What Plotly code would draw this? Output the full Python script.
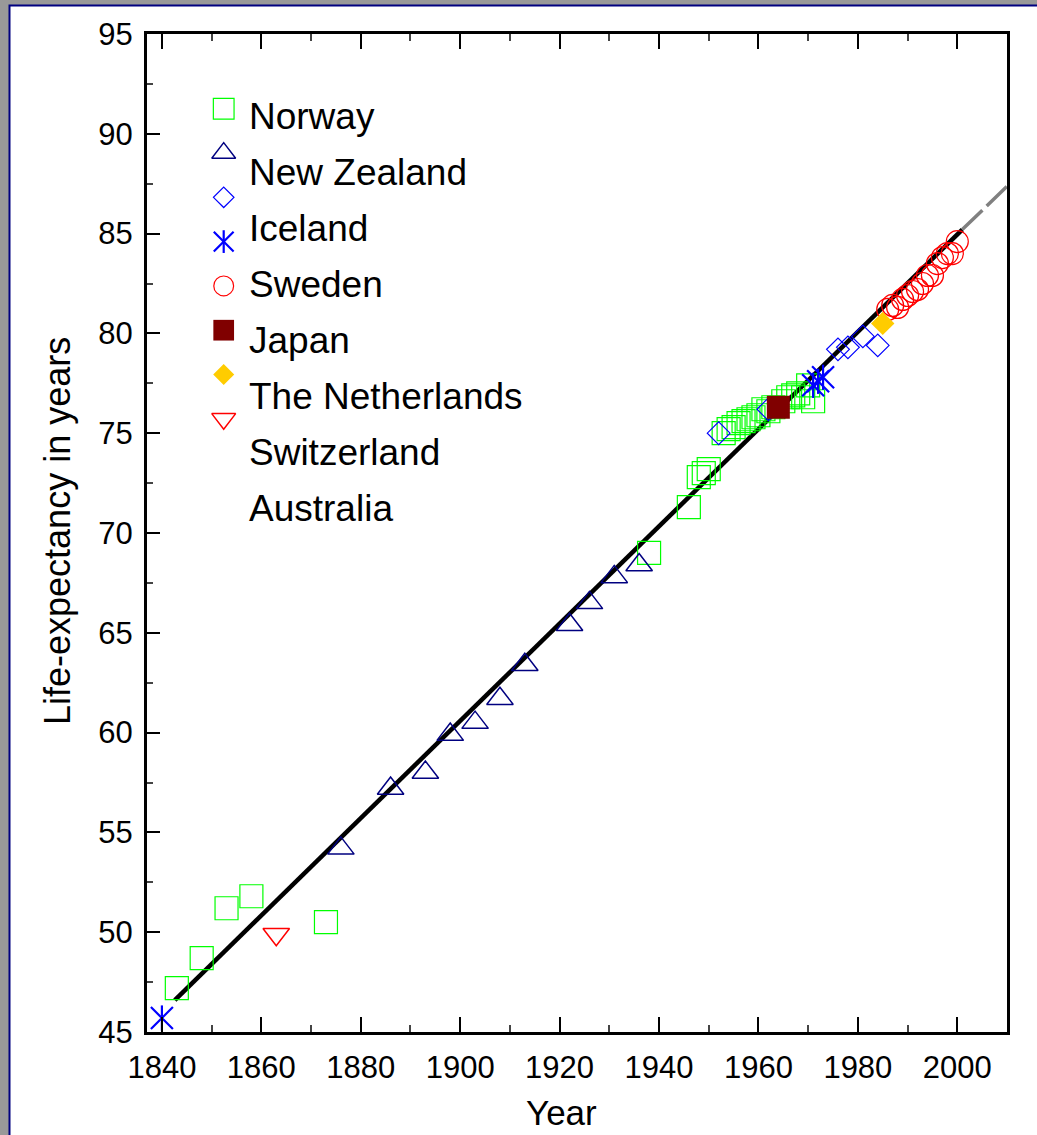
import plotly.graph_objects as go

# Record life expectancy (years) by country and calendar year
norway_years = [1843, 1848, 1853, 1858, 1873, 1938, 1946, 1948, 1949, 1950,
                1953, 1954, 1955, 1956, 1957, 1958, 1959, 1960, 1961, 1962,
                1963, 1965, 1966, 1967, 1968, 1969, 1970, 1971]
norway_values = [47.2, 48.7, 51.2, 51.8, 50.5, 69.0, 71.3, 72.8, 73.0, 73.2,
                 75.0, 75.2, 75.3, 75.5, 75.6, 75.7, 75.8, 75.9, 76.2, 76.1,
                 76.3, 76.6, 76.8, 76.9, 77.0, 76.8, 77.4, 76.6]

new_zealand_years = [1876, 1886, 1893, 1898, 1903, 1908, 1913, 1922, 1926, 1931, 1936]
new_zealand_values = [54.2, 57.2, 58.0, 59.9, 60.5, 61.7, 63.4, 65.4, 66.5, 67.8, 68.4]

iceland_years = [1952, 1962, 1976, 1978, 1981, 1984]
iceland_values = [75.0, 76.2, 79.2, 79.3, 79.85, 79.4]

sweden_years = [1840, 1971, 1972, 1973]
sweden_values = [45.7, 77.4, 77.6, 77.8]

japan_years = [1986, 1987, 1988, 1989, 1990, 1991, 1992, 1993, 1994, 1995,
               1996, 1997, 1998, 1999, 2000]
japan_values = [81.2, 81.4, 81.3, 81.7, 81.9, 82.1, 82.2, 82.5, 82.9, 82.9,
                83.5, 83.8, 84.0, 84.0, 84.6]

netherlands_years = [1964]
netherlands_values = [76.3]

switzerland_years = [1985]
switzerland_values = [80.5]

australia_years = [1863]
australia_values = [49.9]

# Linear trend of the record and its projection
trend_years = [1842.6, 2001]
trend_values = [46.6, 85.2]
projection_years = [2001, 2012]
projection_values = [85.2, 87.85]

legend_labels = ["Norway", "New Zealand", "Iceland", "Sweden", "Japan",
                 "The Netherlands", "Switzerland", "Australia"]

FONT = "Liberation Sans, Arial, sans-serif"
W, H = 1037, 1135
ML, MR, MT, MB = 147, 30, 34, 103
PW, PH = W - ML - MR, H - MT - MB

NAVY = "#000080"
BLUE = "#0000FF"
LIME = "#00FF00"
RED = "#FF0000"
MAROON = "#800000"
GOLD = "#FFCC00"

fig = go.Figure()

fig.add_trace(go.Scatter(x=projection_years, y=projection_values, mode="lines",
                         line=dict(color="#808080", width=3.5, dash="28px,6px"),
                         hoverinfo="skip", showlegend=False))
fig.add_trace(go.Scatter(x=trend_years, y=trend_values, mode="lines",
                         line=dict(color="black", width=4.5),
                         hoverinfo="skip", showlegend=False))

# marker styles per country: (symbol, color, size, line width)
styles = [
    ("square-open", LIME, 23, 1.2),
    ("triangle-up-open", NAVY, 23, 1.5),
    ("diamond-open", BLUE, 17.5, 1.2),
    (None, BLUE, 22, 2.2),
    ("circle-open", RED, 22, 1.2),
    ("square", MAROON, 23, 0),
    ("diamond", GOLD, 18, 0),
    ("triangle-down-open", RED, 23, 1.5),
]
series = [
    (norway_years, norway_values),
    (new_zealand_years, new_zealand_values),
    (iceland_years, iceland_values),
    (sweden_years, sweden_values),
    (japan_years, japan_values),
    (netherlands_years, netherlands_values),
    (switzerland_years, switzerland_values),
    (australia_years, australia_values),
]


def add_markers(xs, ys, style, name, xaxis="x", yaxis="y", scale=1.0):
    sym, col, size, lw = style
    if sym is None:
        # six-armed asterisk: vertical bar plus an x
        fig.add_trace(go.Scatter(x=xs, y=ys, mode="markers", name=name,
                                 xaxis=xaxis, yaxis=yaxis, showlegend=False,
                                 marker=dict(symbol="line-ns-open", size=size * 0.82 * scale,
                                             color=col, line=dict(color=col, width=lw))))
        fig.add_trace(go.Scatter(x=xs, y=ys, mode="markers", name=name,
                                 xaxis=xaxis, yaxis=yaxis, showlegend=False,
                                 marker=dict(symbol="x-thin-open", size=size * scale,
                                             color=col, line=dict(color=col, width=lw))))
        return
    fig.add_trace(go.Scatter(x=xs, y=ys, mode="markers", name=name,
                             xaxis=xaxis, yaxis=yaxis, showlegend=False,
                             marker=dict(symbol=sym, size=size * scale, color=col,
                                         line=dict(color=col, width=lw))))


for (xs, ys), style, name in zip(series, styles, legend_labels):
    add_markers(xs, ys, style, name)

# Legend drawn in plot-pixel coordinates on an overlay axis pair
icon_x, icon_y0, icon_dy = 76.7, 74.7, 44.3
label_x, label_y0, label_dy = 100, 82.3, 56.0
for k, (style, name) in enumerate(zip(styles, legend_labels)):
    add_markers([icon_x], [icon_y0 + k * icon_dy], style, name,
                xaxis="x2", yaxis="y2", scale=0.9)
    fig.add_annotation(x=label_x, y=label_y0 + k * label_dy, xref="x2", yref="y2",
                       text=name, showarrow=False, xanchor="left", yanchor="middle",
                       font=dict(family=FONT, size=37, color="black"))

axis_common = dict(showline=True, linewidth=3, linecolor="black", showgrid=False,
                   zeroline=False, ticks="inside", tickcolor="black", tickwidth=2,
                   tickfont=dict(family=FONT, size=31, color="black"))

fig.update_layout(
    width=W, height=H,
    margin=dict(l=ML, r=MR, t=MT, b=MB, pad=0),
    paper_bgcolor="#999999", plot_bgcolor="white",
    showlegend=False, hovermode=False,
    xaxis=dict(range=[1837, 2010], tick0=1840, dtick=20, ticklen=15, mirror="ticks",
               ticklabelstandoff=6,
               minor=dict(dtick=10, tick0=1840, ticks="inside", ticklen=7,
                          tickwidth=1.5, tickcolor="#444444"),
               **axis_common),
    yaxis=dict(range=[45, 95], tick0=45, dtick=5, ticklen=13, mirror=True,
               ticklabelstandoff=5,
               minor=dict(dtick=2.5, tick0=45, ticks="inside", ticklen=6,
                          tickwidth=1.5, tickcolor="#444444"),
               **axis_common),
    xaxis2=dict(range=[0, PW], overlaying="x", anchor="y2", visible=False, fixedrange=True),
    yaxis2=dict(range=[PH, 0], overlaying="y", anchor="x2", visible=False, fixedrange=True),
    shapes=[dict(type="rect", xref="paper", yref="paper", layer="below",
                 x0=(9.5 - ML) / PW, x1=(W + 10 - ML) / PW,
                 y0=-(MB + 10) / PH, y1=1 + (MT - 5.5) / PH,
                 fillcolor="white", line=dict(color=NAVY, width=2))],
)

# Axis titles
fig.add_annotation(text="Life-expectancy in years", textangle=-90, showarrow=False,
                   xref="paper", yref="paper", x=(57 - ML) / PW, y=(PH + MT - 531) / PH,
                   xanchor="center", yanchor="middle",
                   font=dict(family=FONT, size=36, color="black"))
fig.add_annotation(text="Year", showarrow=False, xref="paper", yref="paper",
                   x=(561 - ML) / PW, y=-(H - 1 - MT - PH) / PH,
                   xanchor="center", yanchor="bottom",
                   font=dict(family=FONT, size=35, color="black"))

fig.write_html("out.html", config=dict(displayModeBar=False))
